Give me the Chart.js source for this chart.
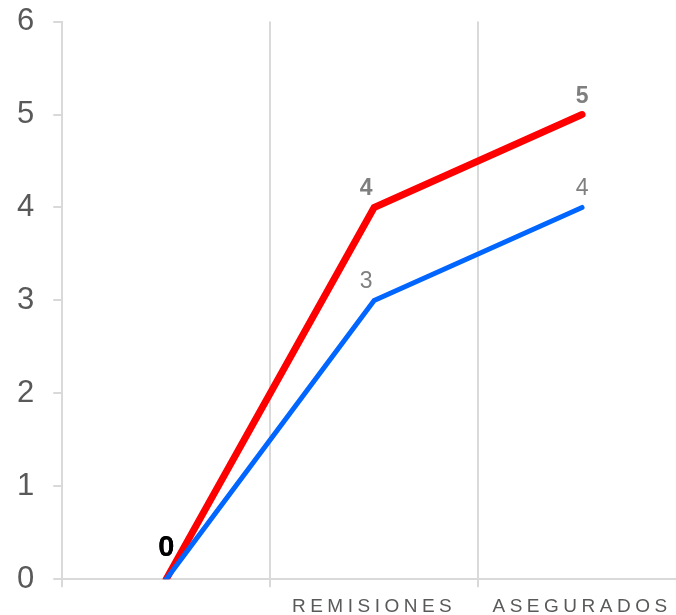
<!DOCTYPE html>
<html>
<head>
<meta charset="utf-8">
<script src="https://cdn.jsdelivr.net/npm/chart.js@4"></script>
<style>
  html, body { margin: 0; padding: 0; overflow: hidden; background: #fff; }
  #wrap { width: 712px; height: 642px; margin-top: -16px; margin-left: -2px; }
</style>
</head>
<body>
<div id="wrap"><canvas id="chart"></canvas></div>
<script>
var categories = ['', 'REMISIONES', 'ASEGURADOS'];
var redValues = [0, 4, 5];
var blueValues = [0, 3, 4];
var yTicks = [0, 1, 2, 3, 4, 5, 6];

var gridColor = '#d9d9d9';

// small label plugin, draws value above each point
var valueLabels = {
    id: 'valueLabels',
    beforeDraw: function (chart) {
        chart.ctx.letterSpacing = '4.5px';
    },
    beforeDatasetsDraw: function (chart) {
        chart.ctx.letterSpacing = '0px';
    },
    afterDatasetsDraw: function (chart) {
        var ctx = chart.ctx;
        ctx.save();
        ctx.textAlign = 'center';
        ctx.textBaseline = 'alphabetic';
        chart.data.datasets.forEach(function (ds, i) {
            var meta = chart.getDatasetMeta(i);
            meta.data.forEach(function (pt, j) {
                var v = ds.data[j];
                var size = v === 0 ? 29 : 23;
                ctx.font = (ds.labelBold || v === 0 ? 'bold ' : '') + size + 'px "Liberation Sans", Arial, sans-serif';
                ctx.fillStyle = v === 0 ? '#000000' : '#7f7f7f';
                var dx = (j === 1) ? -8 : 0;
                ctx.fillText(String(v), pt.x + dx, pt.y - (v === 0 ? 23 : 12));
            });
        });
        ctx.restore();
    }
};

new Chart(document.getElementById('chart'), {
    type: 'line',
    data: {
        labels: categories,
        datasets: [{
            label: 'Serie 1',
            data: redValues,
            borderColor: '#ff0000',
            borderWidth: 7,
            borderCapStyle: 'round',
            pointRadius: 0,
            tension: 0,
            labelBold: true,
            order: 2
        }, {
            label: 'Serie 2',
            data: blueValues,
            borderColor: '#0066ff',
            borderWidth: 5,
            borderCapStyle: 'round',
            pointRadius: 0,
            tension: 0,
            labelBold: false,
            order: 1
        }]
    },
    options: {
        responsive: true,
        maintainAspectRatio: false,
        animation: false,
        layout: { padding: { left: 0, right: 24, top: 9, bottom: 0 } },
        plugins: {
            legend: { display: false },
            tooltip: { enabled: false }
        },
        scales: {
            x: {
                offset: true,
                grid: {
                    offset: true,
                    color: gridColor,
                    lineWidth: 2,
                    tickLength: 8
                },
                border: { color: gridColor, width: 2 },
                ticks: {
                    color: '#595959',
                    padding: 8,
                    maxRotation: 0,
                    font: { family: '"Liberation Sans", Arial, sans-serif', size: 19 }
                }
            },
            y: {
                min: 0,
                max: 6,
                afterBuildTicks: function (axis) {
                    axis.ticks = yTicks.map(function (v) { return { value: v }; });
                },
                grid: {
                    drawOnChartArea: false,
                    color: gridColor,
                    lineWidth: 2,
                    tickLength: 9
                },
                border: { color: gridColor, width: 2 },
                ticks: {
                    z: 1,
                    color: '#595959',
                    padding: 19,
                    font: { family: '"Liberation Sans", Arial, sans-serif', size: 31 }
                }
            }
        }
    },
    plugins: [valueLabels]
});
</script>
</body>
</html>
